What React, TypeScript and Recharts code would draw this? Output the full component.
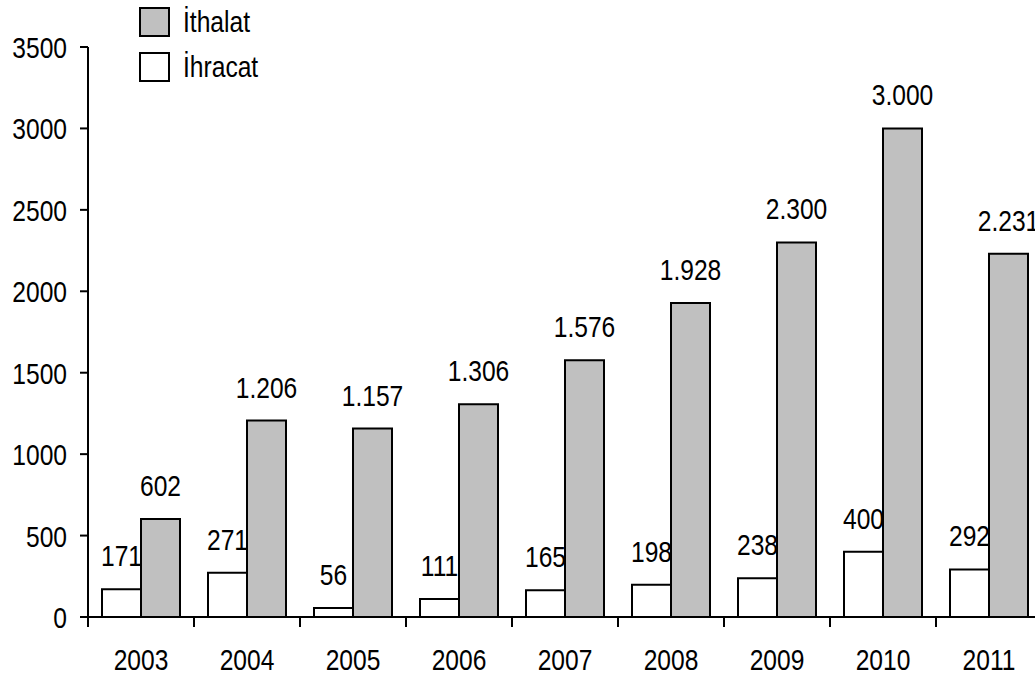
import { BarChart, Bar, XAxis, YAxis, LabelList } from "recharts";

const years = ["2003", "2004", "2005", "2006", "2007", "2008", "2009", "2010", "2011"];
const ihracat = [171, 271, 56, 111, 165, 198, 238, 400, 292];
const ithalat = [602, 1206, 1157, 1306, 1576, 1928, 2300, 3000, 2231];
const yTicks = [0, 500, 1000, 1500, 2000, 2500, 3000, 3500];

const data = years.map((year, i) => ({ year, ihracat: ihracat[i], ithalat: ithalat[i] }));

const FONT = "'Liberation Sans', Arial, sans-serif";
const FS = 30;
const SQUEEZE = 0.82; // the original uses a narrow face

// Turkish thousands separator: 1206 -> 1.206
const fmt = (v: any) => String(v).replace(/\B(?=(\d{3})+(?!\d))/g, ".");

function NarrowText({ x, y, anchor, children }: any) {
  return (
    <text
      transform={`translate(${x},${y}) scale(${SQUEEZE},1)`}
      textAnchor={anchor}
      fill="#000"
      fontSize={FS}
      fontFamily={FONT}
    >
      {children}
    </text>
  );
}

// year label + tick mark on the left boundary of each category
function YearTick(props: any) {
  const { x, y, payload } = props;
  const half = payload.offset ?? 0;
  return (
    <g>
      <line x1={x - half} x2={x - half} y1={y} y2={y + 10} stroke="#000" strokeWidth={2} />
      <NarrowText x={x} y={y + 53} anchor="middle">{payload.value}</NarrowText>
    </g>
  );
}

function ValueTick(props: any) {
  const { x, y, payload } = props;
  return <NarrowText x={x} y={y + 11} anchor="end">{payload.value}</NarrowText>;
}

function BarLabel(props: any) {
  const { x, y, width, value } = props;
  return <NarrowText x={x + width / 2} y={y - 23} anchor="middle">{fmt(value)}</NarrowText>;
}

function LegendBox() {
  const rows = [
    { name: "İthalat", fill: "#C0C0C0" },
    { name: "İhracat", fill: "#FFFFFF" },
  ];
  return (
    <div style={{ position: "absolute", left: 139, top: 7, fontFamily: FONT, fontSize: 30, color: "#000" }}>
      {rows.map(r => (
        <div key={r.name} style={{ display: "flex", alignItems: "center", height: 30, marginBottom: 15 }}>
          <div style={{ width: 27, height: 26, background: r.fill, border: "2px solid #000" }} />
          <span
            style={{
              marginLeft: 13,
              lineHeight: "30px",
              display: "inline-block",
              transform: `scaleX(${SQUEEZE})`,
              transformOrigin: "left center",
            }}
          >
            {r.name}
          </span>
        </div>
      ))}
    </div>
  );
}

export default function App() {
  return (
    <div style={{ position: "absolute", left: 0, top: 0, width: 1035, height: 676, overflow: "hidden", background: "#fff" }}>
      <BarChart
        width={1045}
        height={676}
        data={data}
        margin={{ top: 47, right: 3, bottom: 0, left: 0 }}
        barCategoryGap={14}
        barGap={0}
      >
        <XAxis
          dataKey="year"
          tickLine={false}
          tickSize={0}
          tickMargin={0}
          height={59}
          axisLine={{ stroke: "#000", strokeWidth: 2 }}
          tick={<YearTick />}
          interval={0}
        />
        <YAxis
          width={88}
          domain={[0, 3500]}
          ticks={yTicks}
          tickSize={8}
          tickMargin={13}
          axisLine={{ stroke: "#000", strokeWidth: 2 }}
          tickLine={{ stroke: "#000", strokeWidth: 2 }}
          tick={<ValueTick />}
          interval={0}
        />
        <Bar dataKey="ihracat" fill="#FFFFFF" stroke="#000" strokeWidth={2} isAnimationActive={false}>
          <LabelList dataKey="ihracat" content={<BarLabel />} />
        </Bar>
        <Bar dataKey="ithalat" fill="#C0C0C0" stroke="#000" strokeWidth={2} isAnimationActive={false}>
          <LabelList dataKey="ithalat" content={<BarLabel />} />
        </Bar>
      </BarChart>
      <LegendBox />
    </div>
  );
}
